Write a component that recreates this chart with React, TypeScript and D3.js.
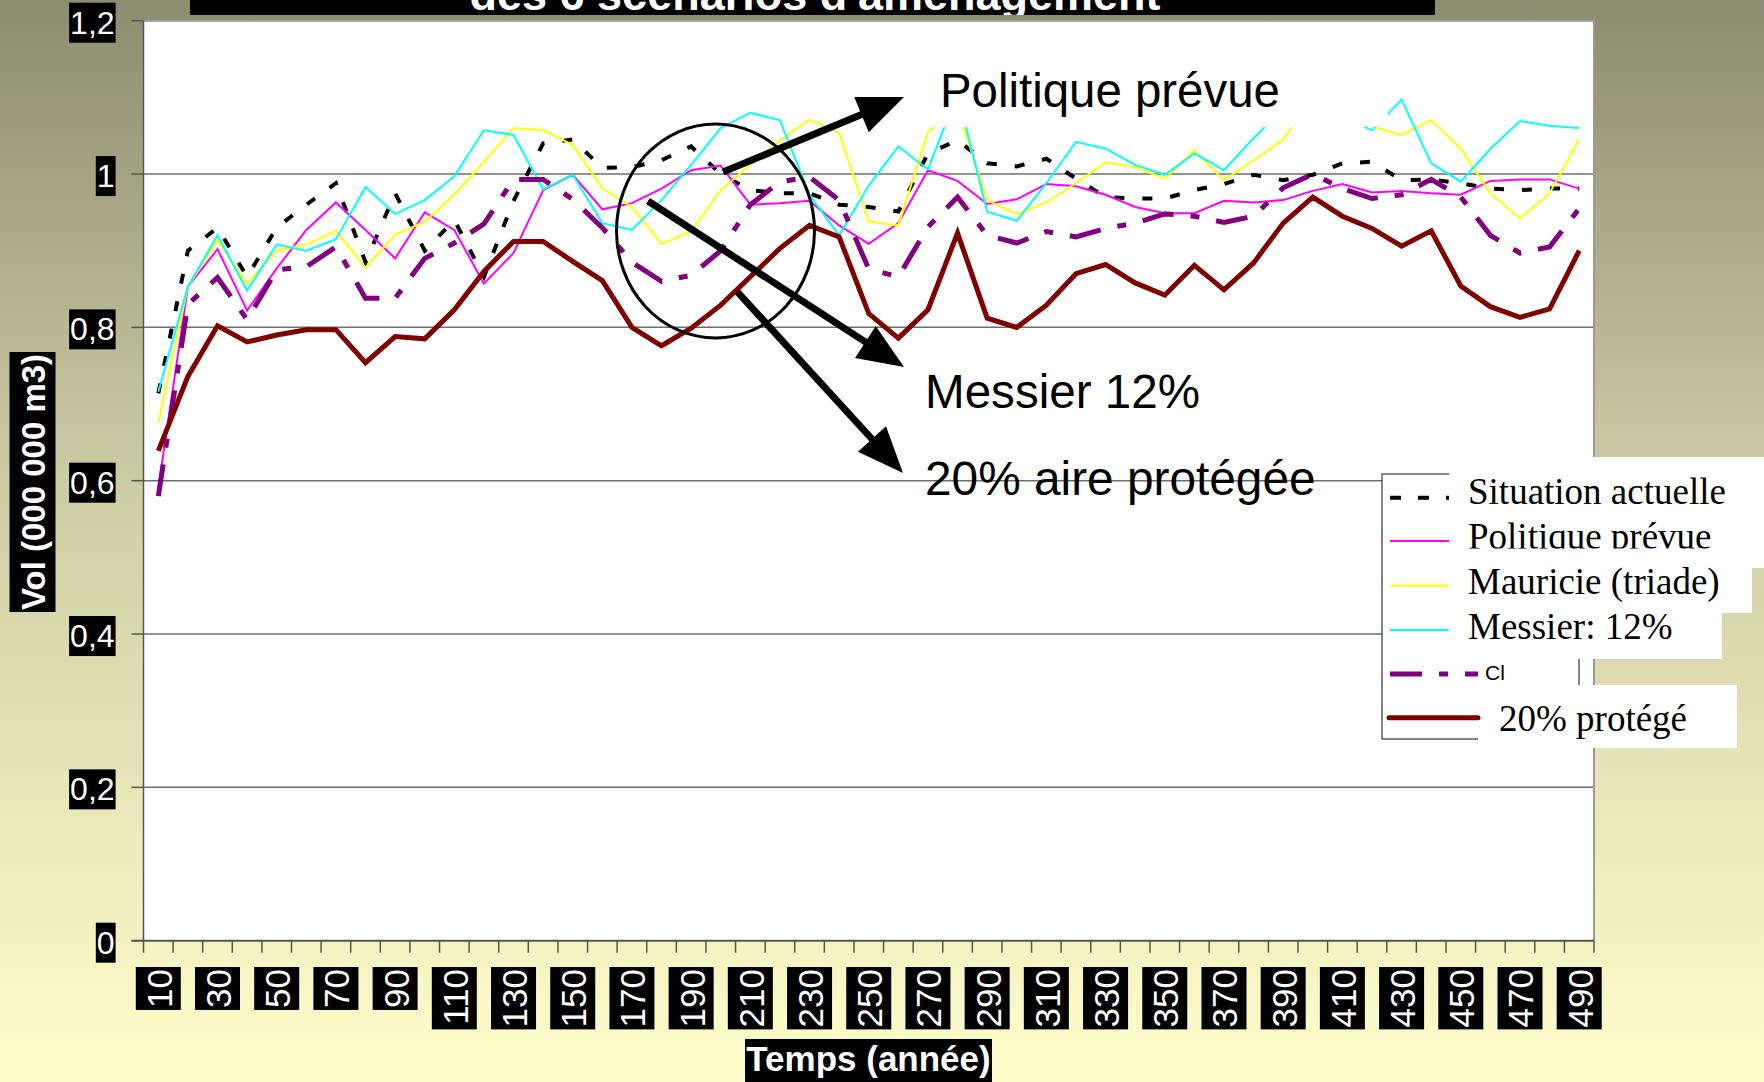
import React from "react";
import * as d3 from "d3";

// categories (années) and the six scenario series
const years = [
  10, 20, 30, 40, 50, 60, 70, 80, 90, 100, 110, 120, 130, 140, 150, 160, 170,
  180, 190, 200, 210, 220, 230, 240, 250, 260, 270, 280, 290, 300, 310, 320,
  330, 340, 350, 360, 370, 380, 390, 400, 410, 420, 430, 440, 450, 460, 470,
  480, 490,
];

const situationActuelle = [
  0.714, 0.9, 0.93, 0.866, 0.93, 0.96, 0.988, 0.885, 0.975, 0.9, 0.94, 0.866,
  0.965, 1.04, 1.045, 1.008, 1.009, 1.018, 1.036, 1.0, 0.979, 0.975, 0.975,
  0.96, 0.957, 0.951, 1.027, 1.044, 1.014, 1.01, 1.02, 0.994, 0.97, 0.968,
  0.968, 0.979, 0.987, 0.999, 0.992, 0.999, 1.014, 1.016, 0.992, 0.993, 0.988,
  0.981, 0.979, 0.981, 0.981,
];

const politiquePrevue = [
  0.59, 0.853, 0.902, 0.822, 0.877, 0.927, 0.963, 0.927, 0.89, 0.95, 0.927,
  0.857, 0.897, 0.979, 0.999, 0.954, 0.962, 0.981, 1.005, 1.011, 0.96, 0.962,
  0.965, 0.933, 0.909, 0.936, 1.005, 0.991, 0.961, 0.967, 0.987, 0.984, 0.973,
  0.957, 0.949, 0.949, 0.965, 0.963, 0.966, 0.978, 0.987, 0.976, 0.978, 0.975,
  0.973, 0.991, 0.993, 0.993, 0.981,
];

const mauricie = [
  0.676, 0.853, 0.914, 0.857, 0.9, 0.908, 0.926, 0.878, 0.921, 0.938, 0.973,
  1.016, 1.06, 1.057, 1.038, 0.981, 0.957, 0.909, 0.925, 0.979, 1.012, 1.044,
  1.071, 1.054, 0.938, 0.933, 1.055, 1.085, 0.966, 0.948, 0.963, 0.988, 1.015,
  1.009, 0.994, 1.031, 0.992, 1.018, 1.045, 1.1, 1.08, 1.062, 1.051, 1.07,
  1.033, 0.975, 0.942, 0.975, 1.045,
];

const messier = [
  0.716, 0.853, 0.92, 0.848, 0.908, 0.9, 0.915, 0.983, 0.948, 0.966, 0.997,
  1.057, 1.051, 0.98, 0.999, 0.936, 0.927, 0.966, 1.012, 1.06, 1.08, 1.07,
  0.973, 0.92, 0.985, 1.036, 1.006, 1.105, 0.951, 0.939, 0.988, 1.042, 1.033,
  1.012, 0.999, 1.027, 1.005, 1.047, 1.085, 1.1, 1.075, 1.057, 1.097, 1.014,
  0.99, 1.033, 1.069, 1.063, 1.06,
];

const cl = [
  0.58, 0.83, 0.865, 0.81, 0.875, 0.879, 0.905, 0.838, 0.838, 0.89, 0.91,
  0.935, 0.993, 0.993, 0.967, 0.93, 0.885, 0.86, 0.868, 0.9, 0.96, 0.99, 0.996,
  0.966, 0.876, 0.866, 0.931, 0.97, 0.92, 0.91, 0.925, 0.918, 0.929, 0.936,
  0.948, 0.945, 0.937, 0.945, 0.982, 1.0, 0.981, 0.968, 0.973, 0.993, 0.97,
  0.92, 0.897, 0.905, 0.955,
];

const protege20 = [
  0.639, 0.736, 0.802, 0.781, 0.79, 0.797, 0.797, 0.754, 0.788, 0.785, 0.823,
  0.873, 0.912, 0.912, 0.886, 0.861, 0.8, 0.776, 0.799, 0.829, 0.866, 0.903,
  0.933, 0.918, 0.818, 0.786, 0.823, 0.923, 0.812, 0.8, 0.829, 0.87, 0.882,
  0.858, 0.842, 0.881, 0.849, 0.884, 0.936, 0.97, 0.945, 0.929, 0.906, 0.926,
  0.854, 0.827, 0.813, 0.824, 0.9,
];

const yTicks = [0, 0.2, 0.4, 0.6, 0.8, 1, 1.2];
const yTickLabels = ["0", "0,2", "0,4", "0,6", "0,8", "1", "1,2"];
const legendLabels = [
  "Situation actuelle",
  "Politique prévue",
  "Mauricie (triade)",
  "Messier: 12%",
  "Cl",
  "20% protégé",
];

const SANS = "'Liberation Sans', Arial, sans-serif";
const SERIF = "'Liberation Serif', 'Times New Roman', serif";

const W = 1764;
const H = 1082;
const plot = { left: 143.5, right: 1594, top: 20.7, bottom: 940.7 };

const series = [
  { values: situationActuelle, color: "#000000", width: 4, dash: "10 18" },
  { values: politiquePrevue, color: "#ff00ff", width: 2, dash: null },
  { values: mauricie, color: "#ffff00", width: 2, dash: null },
  { values: messier, color: "#00ffff", width: 2, dash: null },
  { values: cl, color: "#800080", width: 5, dash: "32 17 9 17" },
  { values: protege20, color: "#800000", width: 5, dash: null },
];

// rough text width for Arial-like digits/commas
const textW = (s: string, size: number) =>
  s.split("").reduce((acc, c) => acc + (c === "," ? 0.278 : 0.556), 0) * size;

function Arrow({ x1, y1, x2, y2 }: { x1: number; y1: number; x2: number; y2: number }) {
  const dx = x2 - x1;
  const dy = y2 - y1;
  const len = Math.sqrt(dx * dx + dy * dy);
  const ux = dx / len;
  const uy = dy / len;
  const hl = 46;
  const hw = 19;
  const bx = x2 - ux * hl;
  const by = y2 - uy * hl;
  const pts = [
    [x2, y2],
    [bx - uy * hw, by + ux * hw],
    [bx + uy * hw, by - ux * hw],
  ];
  return (
    <g>
      <line x1={x1} y1={y1} x2={bx + ux * 4} y2={by + uy * 4} stroke="#000" strokeWidth={7} />
      <polygon points={pts.map((p) => p.join(",")).join(" ")} fill="#000" />
    </g>
  );
}

export default function App() {
  const x = d3
    .scaleBand<number>()
    .domain(years)
    .range([plot.left, plot.right])
    .padding(0);
  const y = d3.scaleLinear().domain([0, 1.2]).range([plot.bottom, plot.top]);
  const cx = (d: number) => (x(d) as number) + x.bandwidth() / 2;

  const line = d3
    .line<number>()
    .x((_, i) => cx(years[i]))
    .y((v) => y(v));

  const bandEdges = years.map((d) => x(d) as number).concat([plot.right]);

  // legend rows (layout only)
  const legendRows = [
    { y: 497.7, base: 503.5, tx: 1468 },
    { y: 541, base: 549, tx: 1468 },
    { y: 585.7, base: 594, tx: 1468 },
    { y: 630, base: 639, tx: 1468 },
    { y: 674, base: 680, tx: 1485 },
    { y: 717.7, base: 731, tx: 1499 },
  ];

  return (
    <svg
      width={W}
      height={H}
      style={{ position: "absolute", left: 0, top: 0 }}
      xmlns="http://www.w3.org/2000/svg"
    >
      <defs>
        <linearGradient id="bg" x1="0" y1="0" x2="0" y2="1">
          <stop offset="0%" stopColor="#8c8c70" />
          <stop offset="45%" stopColor="#cdcda4" />
          <stop offset="100%" stopColor="#ffffcc" />
        </linearGradient>
        <clipPath id="titleClip">
          <rect x={190} y={0} width={1245} height={15} />
        </clipPath>
        <clipPath id="legClip2">
          <rect x={1440} y={520} width={330} height={28.5} />
        </clipPath>
      </defs>

      <rect x={0} y={0} width={W} height={H} fill="url(#bg)" />

      {/* title bar, only its lower edge shows in the picture */}
      <rect x={190} y={0} width={1245} height={15} fill="#000" />
      <text
        x={815}
        y={10}
        textAnchor="middle"
        fill="#fff"
        fontFamily={SANS}
        fontWeight="bold"
        fontSize={45}
        clipPath="url(#titleClip)"
      >
        des 6 scénarios d'aménagement
      </text>

      {/* plot area */}
      <rect
        x={plot.left}
        y={plot.top}
        width={plot.right - plot.left}
        height={plot.bottom - plot.top}
        fill="#fff"
      />
      {yTicks
        .filter((t) => t > 0 && t < 1.2)
        .map((t) => (
          <line
            key={t}
            x1={plot.left}
            x2={plot.right}
            y1={y(t)}
            y2={y(t)}
            stroke="#6e6e6e"
            strokeWidth={1.5}
          />
        ))}
      <line x1={plot.left} x2={plot.right} y1={plot.top} y2={plot.top} stroke="#999" strokeWidth={2} />
      <line x1={plot.right} x2={plot.right} y1={plot.top} y2={plot.bottom} stroke="#999" strokeWidth={2} />

      {/* series */}
      {series.map((s, i) => (
        <path
          key={i}
          d={line(s.values) || ""}
          fill="none"
          stroke={s.color}
          strokeWidth={s.width}
          strokeDasharray={s.dash || undefined}
          strokeLinejoin="miter"
        />
      ))}

      {/* annotations */}
      <rect x={929} y={50} width={459} height={77} fill="#fff" />
      <text x={940} y={107} fontFamily={SANS} fontSize={47.4} fill="#000">
        Politique prévue
      </text>
      <text x={925} y={408} fontFamily={SANS} fontSize={47.6} fill="#000">
        Messier 12%
      </text>
      <text x={925} y={495} fontFamily={SANS} fontSize={47.8} fill="#000">
        20% aire protégée
      </text>
      <ellipse cx={715.5} cy={231} rx={99} ry={107} fill="none" stroke="#000" strokeWidth={3} />
      <Arrow x1={723} y1={172} x2={904} y2={97} />
      <Arrow x1={648} y1={201} x2={904} y2={367} />
      <Arrow x1={737.5} y1={292} x2={903} y2={473} />

      {/* axes */}
      <line x1={plot.left} x2={plot.left} y1={plot.top} y2={plot.bottom} stroke="#555" strokeWidth={1.5} />
      <line x1={plot.left - 12} x2={plot.right} y1={plot.bottom} y2={plot.bottom} stroke="#555" strokeWidth={2} />
      {yTicks.map((t) => (
        <line key={t} x1={plot.left - 12} x2={plot.left} y1={y(t)} y2={y(t)} stroke="#555" strokeWidth={1.5} />
      ))}
      {bandEdges.map((e, i) => (
        <line key={i} x1={e} x2={e} y1={plot.bottom} y2={plot.bottom + 12} stroke="#555" strokeWidth={1.5} />
      ))}

      {/* y tick labels */}
      {yTicks.map((t, i) => {
        const lab = yTickLabels[i];
        const w = textW(lab, 32);
        const yy = y(t) + 2;
        return (
          <g key={t}>
            <rect x={115.6 - w - 2} y={yy - 20} width={w + 2} height={40} fill="#000" />
            <text
              x={114.6}
              y={yy}
              textAnchor="end"
              dominantBaseline="central"
              fill="#fff"
              fontFamily={SANS}
              fontSize={32}
            >
              {lab}
            </text>
          </g>
        );
      })}

      {/* x tick labels, every other category */}
      {years
        .filter((_, i) => i % 2 === 0)
        .map((d) => {
          const lab = String(d);
          const len = textW(lab, 35);
          return (
            <g key={d} transform={`translate(${cx(d)},967) rotate(-90)`}>
              <rect x={-(len + 4)} y={-22.5} width={len + 4} height={45} fill="#000" />
              <text
                x={-2}
                y={1}
                textAnchor="end"
                dominantBaseline="central"
                fill="#fff"
                fontFamily={SANS}
                fontSize={35}
              >
                {lab}
              </text>
            </g>
          );
        })}

      {/* axis titles */}
      <g transform="translate(32.5,482) rotate(-90)">
        <rect x={-130} y={-23} width={260} height={46} fill="#000" />
        <text
          x={0}
          y={1}
          textAnchor="middle"
          dominantBaseline="central"
          fill="#fff"
          fontFamily={SANS}
          fontWeight="bold"
          fontSize={33}
        >
          Vol (000 000 m3)
        </text>
      </g>
      <rect x={745} y={1039} width={247} height={50} fill="#000" />
      <text
        x={868.5}
        y={1071}
        textAnchor="middle"
        fill="#fff"
        fontFamily={SANS}
        fontWeight="bold"
        fontSize={35}
      >
        Temps (année)
      </text>

      {/* legend (with its overlapping white text boxes) */}
      <rect x={1382} y={474} width={197} height={265} fill="#fff" stroke="#333" strokeWidth={1.2} />
      <rect x={1449} y={457} width={315} height={111} fill="#fff" />
      <rect x={1449} y={568} width={303} height={45} fill="#fff" />
      <rect x={1449} y={613} width={273} height={46} fill="#fff" />
      <rect x={1478} y={685} width={259} height={63} fill="#fff" />
      {series.map((s, i) => {
        const r = legendRows[i];
        const x1 = i === 5 ? 1389 : 1390;
        const x2 = i >= 4 ? 1478 : 1449;
        return (
          <line
            key={i}
            x1={x1}
            x2={x2}
            y1={r.y}
            y2={r.y}
            stroke={s.color}
            strokeWidth={i === 0 ? 4 : s.width}
            strokeDasharray={i === 0 ? "11 17" : s.dash || undefined}
            strokeLinecap={i === 5 ? "round" : "butt"}
          />
        );
      })}
      {legendLabels.map((lab, i) => {
        const r = legendRows[i];
        if (i === 4) {
          return (
            <text key={i} x={r.tx} y={r.base} fontFamily={SANS} fontSize={21} fill="#000">
              {lab}
            </text>
          );
        }
        return (
          <text
            key={i}
            x={r.tx}
            y={r.base}
            fontFamily={SERIF}
            fontSize={37}
            fill="#000"
            clipPath={i === 1 ? "url(#legClip2)" : undefined}
          >
            {lab}
          </text>
        );
      })}
    </svg>
  );
}
